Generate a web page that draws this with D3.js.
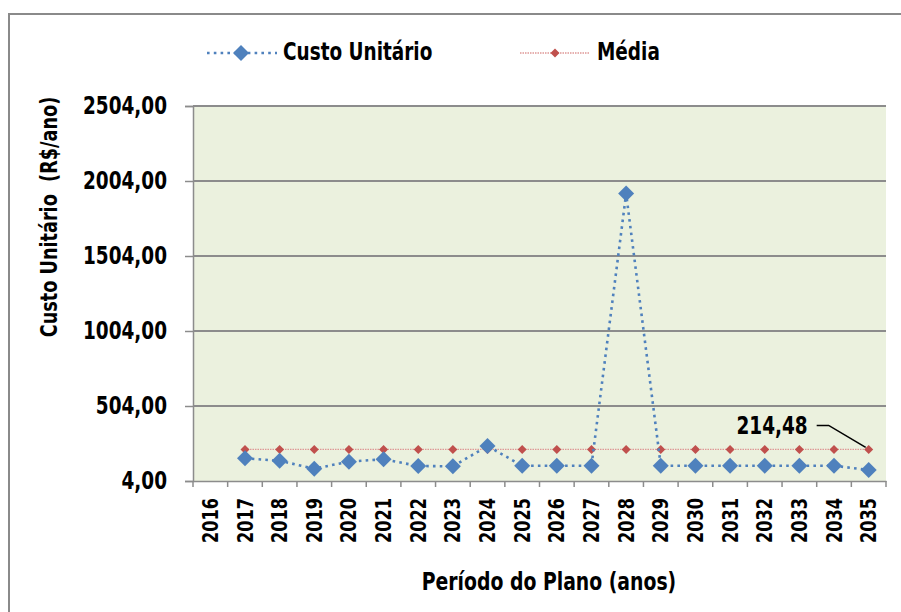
<!DOCTYPE html>
<html>
<head>
<meta charset="utf-8">
<script src="https://cdn.jsdelivr.net/npm/d3@7"></script>
<style>
  html, body { margin: 0; padding: 0; background: #fff; }
  svg { display: block; }
  svg text { font-family: "Liberation Sans Narrow", "DejaVu Sans Condensed", "Arial Narrow", sans-serif; font-weight: bold; fill: #000; }
</style>
</head>
<body>
<svg id="chart" width="901" height="612"></svg>
<script>
// Anos do período do plano
const years = ["2016","2017","2018","2019","2020","2021","2022","2023","2024","2025",
               "2026","2027","2028","2029","2030","2031","2032","2033","2034","2035"];
// Custo unitário anual (R$/ano); 2016 sem valor
const custoUnitario = [null,155,139,86,133,149,104,102,237,106,
                       106,106,1920,106,106,106,106,106,106,77];
// Média do período
const mediaValor = 214.48;
const media = years.map((y, i) => i === 0 ? null : mediaValor);
// Marcas do eixo Y
const yTicks = [4, 504, 1004, 1504, 2004, 2504];

const fmt = v => v.toFixed(2).replace(".", ",");

const svg = d3.select("#chart");
const margin = { left: 193, right: 886, top: 106, bottom: 481 };

const x = d3.scaleBand().domain(years).range([margin.left, margin.right]);
const y = d3.scaleLinear().domain([4, 2504]).range([margin.bottom, margin.top]);

// Losango quadrado (diagonal = d)
const diamond = d => { const r = d / 2; return `M0,${-r}L${r},0L0,${r}L${-r},0Z`; };

// Moldura externa
svg.append("path")
  .attr("d", "M9,612 L9,14 L901,14")
  .attr("fill", "none").attr("stroke", "#8a8a8a").attr("stroke-width", 2);

// Área de plotagem
svg.append("rect")
  .attr("x", margin.left).attr("y", margin.top)
  .attr("width", margin.right - margin.left).attr("height", margin.bottom - margin.top)
  .attr("fill", "#ebf1de");

// Linhas de grade
svg.append("g").selectAll("line").data(yTicks.slice(1)).join("line")
  .attr("x1", margin.left).attr("x2", margin.right)
  .attr("y1", d => y(d)).attr("y2", d => y(d))
  .attr("stroke", "#8c8c8c").attr("stroke-width", 2);

// Eixo Y
const yAxis = svg.append("g").attr("transform", `translate(${margin.left},0)`)
  .call(d3.axisLeft(y).tickValues(yTicks).tickFormat(fmt).tickSize(8).tickPadding(18));
yAxis.select(".domain").attr("stroke", "#8c8c8c").attr("stroke-width", 1.5);
yAxis.selectAll(".tick line").attr("stroke", "#8c8c8c").attr("stroke-width", 1.5);
yAxis.selectAll(".tick text").attr("font-size", 24).classed("lbl", true);

// Eixo X
const xAxis = svg.append("g").attr("transform", `translate(0,${margin.bottom})`)
  .call(d3.axisBottom(x).tickSize(0).tickPadding(0));
xAxis.select(".domain").attr("stroke", "#8c8c8c").attr("stroke-width", 1.5);
xAxis.selectAll(".tick text")
  .attr("font-size", 21).classed("lbl", true)
  .attr("transform", "rotate(-90)")
  .attr("text-anchor", "end")
  .attr("x", -17).attr("y", 0).attr("dy", "0.36em");
svg.selectAll("g").attr("font-family", null);
// Marcas entre categorias
svg.append("g").selectAll("line").data(d3.range(years.length + 1)).join("line")
  .attr("x1", i => margin.left + i * x.step()).attr("x2", i => margin.left + i * x.step())
  .attr("y1", margin.bottom).attr("y2", margin.bottom + 6)
  .attr("stroke", "#8c8c8c").attr("stroke-width", 1.5);

const cx = d => x(d) + x.bandwidth() / 2;

// Série Média
const mediaPts = years.map((yr, i) => ({ yr, v: media[i] })).filter(d => d.v != null);
svg.append("path").datum(mediaPts)
  .attr("d", d3.line().x(d => cx(d.yr)).y(d => y(d.v)))
  .attr("fill", "none").attr("stroke", "#de9896").attr("stroke-width", 1.3)
  .attr("stroke-dasharray", "1.5,1");
svg.append("g").selectAll("path").data(mediaPts).join("path")
  .attr("transform", d => `translate(${cx(d.yr)},${y(d.v)})`)
  .attr("d", diamond(9))
  .attr("fill", "#c0504d");

// Série Custo Unitário
const custoPts = years.map((yr, i) => ({ yr, v: custoUnitario[i] })).filter(d => d.v != null);
svg.append("path").datum(custoPts)
  .attr("d", d3.line().x(d => cx(d.yr)).y(d => y(d.v)))
  .attr("fill", "none").attr("stroke", "#4f81bd").attr("stroke-width", 2.6)
  .attr("stroke-dasharray", "2.6,4.2");
svg.append("g").selectAll("path").data(custoPts).join("path")
  .attr("transform", d => `translate(${cx(d.yr)},${y(d.v)})`)
  .attr("d", diamond(16))
  .attr("fill", "#4f81bd");

// Rótulo da média
const lastYr = years[years.length - 1];
const lx = cx(lastYr), ly = y(mediaValor);
svg.append("path")
  .attr("d", `M${lx - 52},${ly - 24} L${lx - 40},${ly - 24} L${lx - 3},${ly - 2}`)
  .attr("fill", "none").attr("stroke", "#000").attr("stroke-width", 1.6);
svg.append("text").classed("lbl", true)
  .attr("x", lx - 61).attr("y", ly - 15)
  .attr("text-anchor", "end").attr("font-size", 24)
  .text(fmt(mediaValor));

// Legenda
const leg = svg.append("g");
leg.append("line").attr("x1", 207).attr("x2", 277).attr("y1", 53).attr("y2", 53)
  .attr("stroke", "#4f81bd").attr("stroke-width", 2.6).attr("stroke-dasharray", "2.6,4.2");
leg.append("path").attr("transform", "translate(241,53)").attr("d", diamond(16)).attr("fill", "#4f81bd");
leg.append("text").classed("lbl", true).attr("x", 283).attr("y", 60).attr("font-size", 24).text("Custo Unitário");
leg.append("line").attr("x1", 520).attr("x2", 589).attr("y1", 53).attr("y2", 53)
  .attr("stroke", "#de9896").attr("stroke-width", 1.3).attr("stroke-dasharray", "1.5,1");
leg.append("path").attr("transform", "translate(555,53)").attr("d", diamond(9)).attr("fill", "#c0504d");
leg.append("text").classed("lbl", true).attr("x", 597).attr("y", 60).attr("font-size", 24).text("Média");

// Títulos dos eixos
svg.append("text").classed("lbl", true)
  .attr("transform", "translate(57,217) rotate(-90)")
  .attr("text-anchor", "middle").attr("font-size", 23)
  .attr("xml:space", "preserve")
  .text("Custo Unitário  (R$/ano)");
svg.append("text").classed("lbl", true)
  .attr("x", 549).attr("y", 590)
  .attr("text-anchor", "middle").attr("font-size", 24.5)
  .text("Período do Plano (anos)");

// Estreitamento horizontal dos textos para a fonte condensada
const probe = svg.append("text").attr("font-size", 24).attr("x", -999).text("2504,00");
const k = 84 / probe.node().getComputedTextLength();
probe.remove();
if (k < 0.99) {
  svg.selectAll("text.lbl").each(function () {
    const w = this.getComputedTextLength();
    d3.select(this).attr("textLength", w * k).attr("lengthAdjust", "spacingAndGlyphs");
  });
}
</script>
</body>
</html>
